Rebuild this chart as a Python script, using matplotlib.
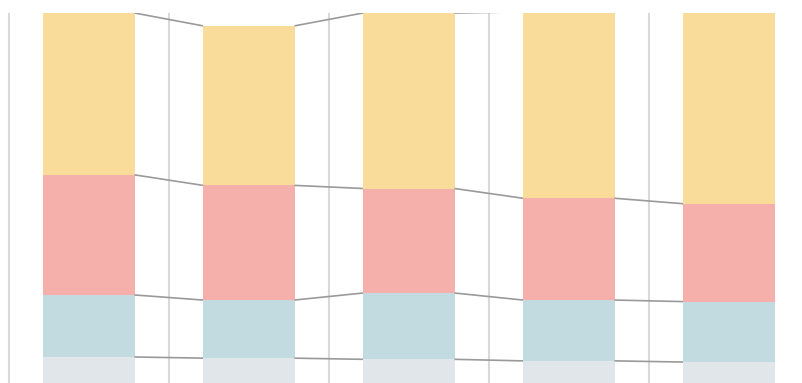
import matplotlib
matplotlib.use("Agg")
import matplotlib.pyplot as plt
import numpy as np

categories = ["A", "B", "C", "D", "E"]
series_names = ["Gray", "Blue", "Red", "Yellow"]
gray = [11.8, 11.5, 11.2, 10.8, 10.5]
blue = [15.9, 14.9, 17.0, 15.6, 15.5]
red = [30.8, 29.4, 26.8, 26.1, 25.1]
yellow = [41.5, 40.9, 45.0, 47.8, 49.8]

colors = ["#e1e6ea", "#c1dbe1", "#f5b0ab", "#fadc9a"]

fig = plt.figure(figsize=(8.03, 3.83), dpi=100)
ax = fig.add_axes([0, 0, 1, (383 - 13) / 383])

x = np.arange(len(categories))
width = 0.572
series = [gray, blue, red, yellow]
bottom = np.zeros(len(categories))
levels = []
for vals, c in zip(series, colors):
    vals = np.array(vals)
    ax.bar(x, vals, width=width, bottom=bottom, color=c, edgecolor="none", zorder=2)
    bottom = bottom + vals
    levels.append(bottom.copy())

# connector lines between bars
for lev in levels:
    for i in range(len(categories) - 1):
        ax.plot([x[i] + width / 2, x[i + 1] - width / 2], [lev[i], lev[i + 1]],
                color="#9a9a9a", lw=1.2, zorder=3, solid_capstyle="butt")

# vertical gridlines at category boundaries
for g in np.arange(-0.5, len(categories), 1.0):
    ax.axvline(g, color="#d9d9d9", lw=1.5, zorder=1)

ax.set_xlim(-88.75 / 160, (803 - 88.75) / 160)
ax.set_ylim(20 / 3.9, 100)
for s in ax.spines.values():
    s.set_visible(False)
ax.set_xticks([])
ax.set_yticks([])

fig.savefig("out.png", dpi=100)
